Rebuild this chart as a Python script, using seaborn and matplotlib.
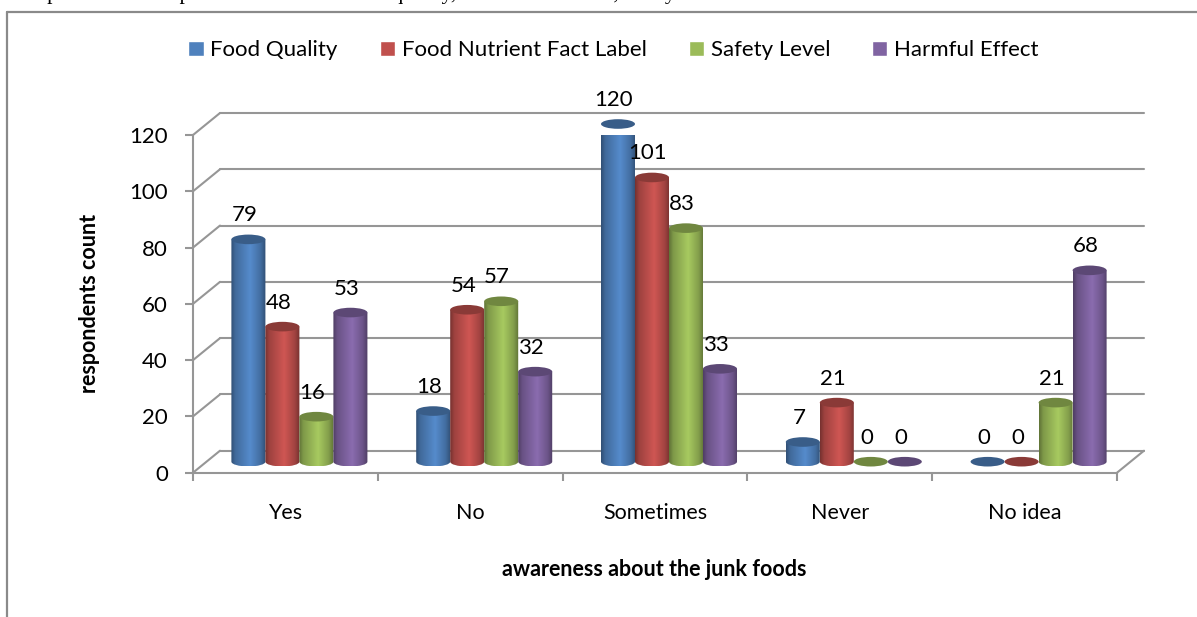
import numpy as np
import pandas as pd
import matplotlib
matplotlib.use('Agg')
import matplotlib.pyplot as plt
import matplotlib.transforms as mtrans
from matplotlib.colors import to_rgb
from matplotlib.lines import Line2D
from matplotlib.patches import Ellipse
from matplotlib.path import Path
from matplotlib.patches import PathPatch
import seaborn as sns

categories = ['Yes', 'No', 'Sometimes', 'Never', 'No idea']
food_quality = [79, 18, 120, 7, 0]
nutrient_label = [48, 54, 101, 21, 0]
safety_level = [16, 57, 83, 0, 21]
harmful_effect = [53, 32, 33, 0, 68]
y_ticks = [0, 20, 40, 60, 80, 100, 120]
series_names = ['Food Quality', 'Food Nutrient Fact Label', 'Safety Level', 'Harmful Effect']
series_colors = ['#4F81BD', '#C0504D', '#9BBB59', '#8064A2']
x_title = 'awareness about the junk foods'
y_title = 'respondents count'
cut_text = 'in respect to various parameters such as food quality, nutrient fact label, safety level and harmful'

W, H = 1197, 617
GRAY = '#969696'

df = pd.DataFrame({'category': categories * 4,
                   'count': food_quality + nutrient_label + safety_level + harmful_effect,
                   'series': [s for s in series_names for _ in categories]})

sns.set_style('white')
plt.rcParams['font.family'] = ['Lato', 'DejaVu Sans']

fig = plt.figure(figsize=(W / 100, H / 100), dpi=100)
ax = fig.add_axes([193 / W, (H - 472.7) / H, 924 / W, 337.7 / H])

sns.barplot(data=df, x='category', y='count', hue='series', order=categories,
            hue_order=series_names, palette=series_colors, width=0.736, gap=0,
            saturation=1, ax=ax)

ax.set_xlim(-0.5, 4.5)
ax.set_ylim(0, 120)
px_x = 5 / 924       # data units per pixel, x
px_y = 120 / 337.7   # data units per pixel, y

# bars stand in the middle of the floor, the wall is at the back of it
bar_shift = mtrans.Affine2D().translate(14 * px_x, 11 * px_y) + ax.transData
dx, dy = 27 * px_x, 22 * px_y
ry = 4.8 * px_y


def cylinder_shade(color):
    rgb = np.array(to_rgb(color))
    stops = np.array([0.0, 0.12, 0.55, 0.85, 1.0])
    levels = np.array([0.62, 0.82, 1.08, 0.85, 0.62])
    t = np.linspace(0, 1, 64)
    shade = np.interp(t, stops, levels)
    return np.clip(rgb[None, None, :] * shade[None, :, None], 0, 1)


z = 5
for container, color in zip(ax.containers, series_colors):
    for bar in container:
        x0, w, h = bar.get_x(), bar.get_width(), bar.get_height()
        xc = x0 + w / 2
        dark = tuple(np.array(to_rgb(color)) * 0.72)
        bar.set_transform(bar_shift)
        bar.set_zorder(z)
        if h > 0:
            # body with rounded bottom
            k = 0.5523
            verts = [(x0, h), (x0, 0),
                     (x0, -k * ry), (xc - k * w / 2, -ry), (xc, -ry),
                     (xc + k * w / 2, -ry), (x0 + w, -k * ry), (x0 + w, 0),
                     (x0 + w, h), (x0, h)]
            codes = [Path.MOVETO, Path.LINETO,
                     Path.CURVE4, Path.CURVE4, Path.CURVE4,
                     Path.CURVE4, Path.CURVE4, Path.CURVE4,
                     Path.LINETO, Path.CLOSEPOLY]
            clip = PathPatch(Path(verts, codes), transform=bar_shift, fc='none', ec='none')
            ax.add_patch(clip)
            im = ax.imshow(cylinder_shade(color), extent=[x0, x0 + w, -ry, h], aspect='auto',
                           interpolation='bilinear', zorder=z + 0.1)
            im.set_transform(bar_shift)
            im.set_clip_path(clip)
            bar.set_visible(False)
        ax.add_patch(Ellipse((xc, h), w, 2 * ry, transform=bar_shift, fc=dark, ec='none',
                             zorder=z + 0.2, clip_on=False))
        ax.annotate(str(int(h)), (xc, h), xycoords=bar_shift, xytext=(-4, 24),
                    textcoords='offset pixels', ha='center', va='center', fontsize=16,
                    color='black', zorder=20, annotation_clip=False)
        z += 1

ax.set_xlim(-0.5, 4.5)
ax.set_ylim(0, 120)

# back wall grid and the floor
for v in y_ticks:
    ax.plot([-0.5, -0.5 + dx], [v, v + dy], color=GRAY, lw=1.5, clip_on=False, zorder=1)
    ax.plot([-0.5 + dx, 4.5 + dx], [v + dy, v + dy], color=GRAY, lw=1.5, clip_on=False, zorder=1)
ax.plot([4.5, 4.5 + dx], [0, dy], color=GRAY, lw=1.5, clip_on=False, zorder=1)

sns.despine(ax=ax, top=True, right=True)
for side in ['left', 'bottom']:
    ax.spines[side].set_color(GRAY)
    ax.spines[side].set_linewidth(1.5)
    ax.spines[side].set_zorder(2)

ax.set_yticks(y_ticks)
ax.set_xticks(range(len(categories)))
ax.set_xticklabels(categories)
ax.set_xticks(np.arange(-0.5, 5), minor=True)
ax.tick_params(axis='x', which='major', length=0, pad=22, labelsize=15.5, labelcolor='black')
ax.tick_params(axis='x', which='minor', bottom=True, length=6, width=1.5, color=GRAY)
ax.tick_params(axis='y', left=True, length=6, width=1.5, color=GRAY, pad=12, labelsize=16,
               labelcolor='black')

ax.set_xlabel(x_title, fontsize=15.5, fontweight='bold', color='black')
ax.set_ylabel(y_title, fontsize=15.5, fontweight='bold', color='black')
ax.xaxis.set_label_coords(654 / W, (H - 569) / H, transform=fig.transFigure)
ax.yaxis.set_label_coords(90 / W, (H - 303) / H, transform=fig.transFigure)
ax.xaxis.label.set_va('center')
ax.yaxis.label.set_va('center')

handles, labels = ax.get_legend_handles_labels()
ax.legend(handles, labels, ncol=4, loc='center', bbox_to_anchor=(613.5 / W, (H - 50) / H),
          bbox_transform=fig.transFigure, frameon=False, fontsize=16, handlelength=0.68,
          handleheight=0.68, handletextpad=0.3, columnspacing=1.9, labelcolor='black')

# chart frame, and the bottom of the page text line cut off above it
fig.add_artist(Line2D([7 / W, 7 / W], [0, (H - 12) / H], color='#8a8a8a', lw=1.6))
fig.add_artist(Line2D([7 / W, 1], [(H - 12) / H, (H - 12) / H], color='#8a8a8a', lw=1.6))
fig.text(0, 1 + 1.5 / H, cut_text, family='Liberation Serif', fontsize=15.5, color='black',
         ha='left', va='baseline')

fig.savefig('out.png', dpi=100)
